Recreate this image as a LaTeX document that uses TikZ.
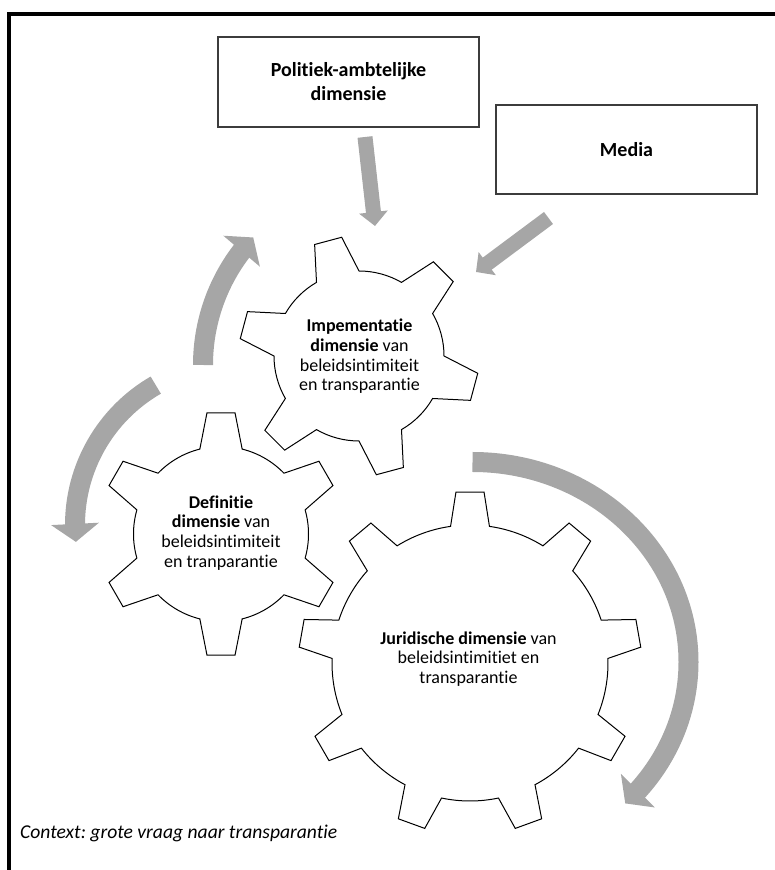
\documentclass[tikz,border=0pt]{standalone}
\usepackage{fontspec}
\setmainfont{Carlito}[Ligatures=NoCommon]
\usetikzlibrary{arrows.meta,bending,positioning}
\definecolor{arrowgray}{RGB}{166,166,166}
\definecolor{boxline}{RGB}{60,60,60}
\frenchspacing

% gear outline: center, teeth, rotation, tip radius, root radius, half base angle, half tip angle
\newcommand{\gearshape}[7]{%
  \begin{scope}[shift={#1}]
    \pgfmathsetmacro{\gstep}{360/#2}
    \pgfmathtruncatemacro{\glast}{#2-1}
    \draw[gearline] ({#3-#6}:#5)
      \foreach \k [evaluate=\k as \ga using #3+\k*\gstep] in {0,...,\glast} {
        -- ({\ga-#7}:#4) -- ({\ga+#7}:#4) -- ({\ga+#6}:#5)
        arc[start angle=\ga+#6, end angle=\ga+\gstep-#6, radius=#5]
      } -- cycle;
  \end{scope}}

\begin{document}
\begin{tikzpicture}[
    x=1pt, y=1pt,
    infobox/.style={rectangle, draw=boxline, line width=1.1pt, fill=white,
                 minimum width=261pt, minimum height=90pt, align=center,
                 font=\fontsize{20}{24}\selectfont\bfseries},
    gearline/.style={draw=black, line width=1pt, fill=white, line join=miter},
    geartext/.style={align=center, inner sep=0pt, font=\fontsize{18}{19.7}\selectfont},
    pusharr/.style={-{Triangle[width=28pt,length=14pt]}, line width=15pt, arrowgray},
    cyclearr/.style={-{Triangle[width=47pt,length=18pt]}, line width=20pt, arrowgray}
  ]
    \useasboundingbox (0,0) rectangle (775,870);
    \draw[line width=3.8pt] (9,0) -- (9,855.7) -- (780,855.7);

    \node[infobox] (pol) at (348.5,788) {Politiek-ambtelijke\\dimensie};
    \node[infobox, minimum height=89pt] (med) at (626.5,720.5) {Media};

    \coordinate (polstart) at (365,733);
    \coordinate (polend) at (375,644);
    \coordinate (medstart) at (548.5,652);
    \coordinate (medend) at (476,598);
    \draw[pusharr] (polstart) -- (polend);
    \draw[pusharr] (medstart) -- (medend);

    % curved arrows round the gears
    \draw[cyclearr] (390,505) ++(180:187) arc[start angle=180, end angle=137, radius=187];
    \draw[cyclearr] (236.5,345) ++(120:161.5) arc[start angle=120, end angle=186, radius=161.5];
    \draw[cyclearr] (472.5,408) arc[start angle=90, end angle=-45, x radius=216, y radius=200];

    % gears
    \gearshape{(470,207)}{9}{90}{171.5}{138}{8.1}{4.7}
    \gearshape{(221,336)}{6}{90}{122}{87.5}{14}{6.6}
    \gearshape{(359,514)}{6}{-15}{120}{85}{15}{6.7}

    \node[geartext] (impl) at (359.5,513.5) {\textbf{Impementatie}\\\textbf{dimensie} van\\beleidsintimiteit\\en transparantie};
    \node[geartext] (defi) at (221,337.3) {\textbf{Definitie}\\\textbf{dimensie} van\\beleidsintimiteit\\en tranparantie};
    \node[geartext] (juri) at (468.5,211) {\textbf{Juridische dimensie} van\\beleidsintimitiet en\\transparantie};

    \node[anchor=west, inner sep=0pt, font=\fontsize{19.6}{22}\selectfont\itshape] (ctx) at (20,37) {Context: grote vraag naar transparantie};
\end{tikzpicture}
\end{document}
